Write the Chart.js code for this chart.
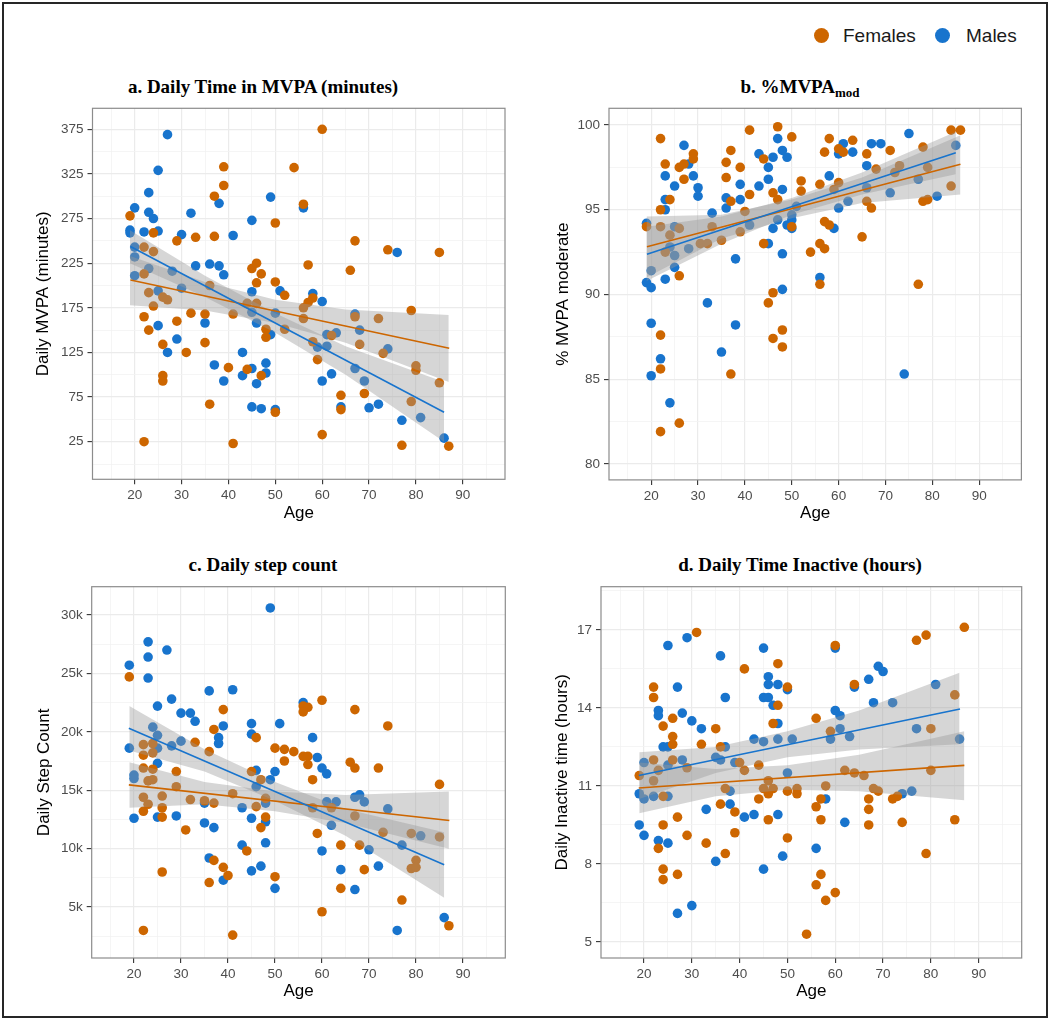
<!DOCTYPE html>
<html>
<head>
<meta charset="utf-8">
<script src="https://cdn.jsdelivr.net/npm/chart.js@4.4.1/dist/chart.umd.min.js"></script>
<style>
  body { margin: 0; background: #fff; }
  #page { position: relative; width: 1050px; height: 1020px; overflow: hidden; }
  #frame { position: absolute; left: 2px; top: 2px; width: 1042px; height: 1012px; border: 2px solid #262626; }
  canvas { position: absolute; }
  .title { position: absolute; width: 520px; text-align: center; font-family: "Liberation Serif", "Times New Roman", serif;
           font-weight: bold; font-size: 19px; line-height: 22px; color: #000; }
  .title sub { font-size: 13px; vertical-align: -4px; line-height: 0; }
  .dot { position: absolute; width: 15px; height: 15px; border-radius: 50%; }
  .lg { position: absolute; font-family: "Liberation Sans", Arial, sans-serif; font-size: 19px; line-height: 23px; color: #1a1a1a; }
</style>
</head>
<body>
<div id="page">
  <div id="frame"></div>
  <div class="dot" style="left:814px;top:28px;background:#CD6600"></div>
  <div class="lg" style="left:843px;top:24px">Females</div>
  <div class="dot" style="left:935px;top:28px;background:#1874CD"></div>
  <div class="lg" style="left:966px;top:24px">Males</div>

  <div class="title" style="left:3px;top:76px">a. Daily Time in MVPA (minutes)</div>
  <div class="title" style="left:540px;top:76px">b. %MVPA<sub>mod</sub></div>
  <div class="title" style="left:3px;top:554px">c. Daily step count</div>
  <div class="title" style="left:540px;top:554px">d. Daily Time Inactive (hours)</div>

  <canvas id="pa" width="515" height="480" style="left:4px;top:60px"></canvas>
  <canvas id="pb" width="515" height="480" style="left:525px;top:60px"></canvas>
  <canvas id="pc" width="515" height="470" style="left:4px;top:540px"></canvas>
  <canvas id="pd" width="515" height="470" style="left:525px;top:540px"></canvas>
</div>
<script>
const orange = '#CD6600';
const blue = '#1874CD';

// x axis (age)
const ageTicks = [15, 20, 25, 30, 35, 40, 45, 50, 55, 60, 65, 70, 75, 80, 85, 90, 95];
const ageLabels = [20, 30, 40, 50, 60, 70, 80, 90];

// a. daily MVPA (minutes)
const mvpaMajor = [25, 75, 125, 175, 225, 275, 325, 375];
const mvpaMinor = [0, 50, 100, 150, 200, 250, 300, 350];
const mvpaMales = [[27,369],[25,329],[23,304],[20,287],[23,282],[24,275],[19,262],[19,259],[22,260],[25,261],[30,257],[32,281],[38,292],[41,256],[45,273],[49,299],[20,243],[20,232],[20,211],[23,219],[28,216],[33,222],[36,224],[38,222],[39,212],[30,197],[25,194],[45,193],[25,155],[29,140],[27,125],[35,158],[43,125],[37,111],[39,93],[43,99],[45,107],[48,113],[48,102],[46,90],[45,64],[47,62],[50,61],[45,170],[46,158],[49,145],[56,287],[76,237],[51,194],[58,191],[60,182],[50,169],[67,168],[61,145],[63,147],[68,150],[59,131],[61,132],[74,129],[67,107],[62,101],[60,93],[69,93],[64,64],[70,63],[72,67],[77,49],[81,52],[86,29]];
const mvpaFemales = [[19,278],[24,259],[39,333],[39,312],[37,300],[33,254],[37,255],[29,250],[22,243],[24,238],[22,213],[23,192],[24,177],[26,187],[27,184],[32,169],[35,168],[41,168],[36,200],[22,165],[23,150],[29,160],[26,134],[31,125],[35,136],[26,99],[26,93],[40,108],[44,106],[47,99],[36,67],[22,25],[41,23],[45,219],[46,225],[47,213],[46,203],[50,204],[50,270],[44,180],[46,180],[48,151],[48,142],[50,58],[60,375],[54,332],[56,291],[67,250],[74,240],[85,237],[57,223],[66,217],[52,189],[58,186],[57,181],[56,175],[56,163],[67,165],[72,163],[79,172],[52,151],[62,144],[58,137],[68,134],[73,124],[59,117],[80,110],[80,105],[85,91],[64,77],[69,79],[79,70],[64,61],[60,33],[77,21],[87,20]];
const mvpaMaleFit = [[19.1,243.6],[86,58]];
const mvpaFemaleFit = [[19.1,206.2],[87.1,129.7]];
const mvpaMaleBand = [[19,225,262],[35,187,211],[50,147,169],[65,100,132],[86,25,92]];
const mvpaFemaleBand = [[19,178,233],[35,172,204],[50,158,184],[65,136,173],[87,92,167]];

// b. % MVPA moderate
const modMajor = [80, 85, 90, 95, 100];
const modMinor = [82.5, 87.5, 92.5, 97.5];
const modMales = [[19,94.2],[20,91.4],[19,90.7],[20,90.4],[20,88.3],[20,85.2],[22,86.2],[24,83.6],[23,97.0],[23,95.6],[23,95.0],[25,96.4],[27,98.8],[28,97.7],[29,97.0],[30,96.3],[30,95.8],[25,94.0],[25,92.3],[25,91.6],[23,90.9],[24,92.8],[28,92.7],[33,94.8],[32,89.5],[35,86.6],[38,88.2],[38,92.1],[36,95.7],[36,95.1],[39,96.5],[39,95.6],[41,94.1],[43,98.3],[43,96.4],[45,96.8],[45,97.5],[46,98.1],[47,99.2],[48,98.5],[49,98.1],[48,96.2],[45,93.0],[48,92.4],[48,90.3],[46,93.9],[47,94.4],[49,94.1],[50,94.4],[61,98.9],[60,98.3],[63,98.4],[67,98.9],[69,98.9],[75,99.5],[85,98.8],[66,97.6],[58,97.0],[66,96.3],[77,96.8],[71,96.0],[62,95.5],[60,95.1],[81,95.8],[51,95.2],[50,94.7],[50,93.9],[59,93.9],[56,91.0],[74,85.3]];
const modFemales = [[19,94.0],[22,99.2],[23,97.7],[22,95.0],[24,95.6],[26,97.5],[27,97.7],[29,98.3],[29,98.0],[27,96.8],[22,94.0],[24,93.5],[23,92.5],[26,93.9],[26,91.1],[22,87.6],[22,85.6],[22,81.9],[26,82.4],[30.5,93.0],[32,93.0],[33,94.0],[35,93.2],[36,97.8],[37,98.5],[36,96.9],[37,95.5],[39,97.5],[37,85.3],[39,93.7],[40,94.9],[41,99.7],[41,95.9],[44,98.0],[44,93.0],[45,89.5],[46,90.1],[46,96.0],[47,99.9],[48,87.9],[48,86.9],[46,87.4],[50,99.3],[50,94.0],[47,95.6],[58,99.2],[57,98.4],[60,98.6],[61,98.4],[63,99.1],[66,98.3],[71,98.5],[78,98.7],[84,99.7],[86,99.7],[68,97.4],[72,97.2],[73,97.6],[79,97.5],[52,96.7],[56,96.5],[60,96.6],[52,96.1],[59,96.2],[84,96.4],[66,95.5],[67,95.1],[78,95.5],[79,95.6],[57,94.3],[58,94.1],[65,93.4],[56,93.0],[57,92.7],[54,92.5],[56,90.6],[77,90.6]];
const modMaleFit = [[19.1,92.37],[85,98.36]];
const modFemaleFit = [[19.1,92.81],[86,97.69]];
const modMaleBand = [[19,90.8,94.0],[35,93.0,94.6],[50,94.7,95.7],[65,95.9,97.2],[85,97.1,99.6]];
const modFemaleBand = [[19,91.0,94.6],[35,93.3,94.7],[50,94.5,95.6],[65,95.4,96.9],[86,95.9,99.4]];

// c. daily step count
const stepMajor = [5000, 10000, 15000, 20000, 25000, 30000];
const stepMajorLabels = ['5k', '10k', '15k', '20k', '25k', '30k'];
const stepMinor = [2500, 7500, 12500, 17500, 22500, 27500];
const stepMales = [[19,25700],[19,18600],[20,16300],[20,16000],[20,12600],[23,27700],[23,26400],[23,24600],[27,27000],[25,22200],[28,22800],[30,21600],[32,21600],[33,20900],[36,23500],[41,23600],[39,20500],[38,19500],[38,19000],[24,20400],[25,19700],[25,18600],[28,18800],[30,19200],[25,17300],[25,12700],[29,12800],[35,12200],[37,11800],[35,13900],[43,13500],[45,12600],[45,20700],[45,19800],[46,16700],[46,15300],[48,12300],[48,10500],[43,10300],[36,9200],[39,7300],[45,8100],[47,8500],[49,30600],[50,16600],[50,6600],[48,13900],[56,22500],[51,20700],[58,19500],[59,17800],[60,16900],[61,16400],[49,15900],[67,14400],[68,14600],[69,14000],[61,14000],[63,14000],[74,13400],[62,12000],[81,11100],[70,9900],[77,10300],[60,9800],[64,8200],[72,8500],[67,6500],[76,3000],[86,4100]];
const stepFemales = [[19,24700],[22,18900],[24,19000],[22,18000],[24,18200],[22,16900],[24,16800],[23,15800],[24,15900],[22,14400],[26,14500],[23,13800],[22,13200],[26,13500],[26,12700],[29,16600],[29,15300],[33,19100],[36,18300],[32,14200],[35,14100],[37,13900],[41,14700],[31,11600],[26,8000],[36,7100],[37,9000],[39,8400],[40,7700],[44,9800],[39,21900],[37,20200],[46,19500],[50,18600],[45,16600],[47,15900],[46,13600],[48,12700],[47,11800],[48,14300],[50,7600],[22,3000],[41,2600],[60,22700],[56,22200],[57,22100],[56,21700],[67,21900],[74,20500],[52,18500],[54,18300],[56,17900],[57,17900],[57,17200],[52,17500],[66,17400],[67,16900],[72,16900],[58,15900],[85,15500],[58,13500],[62,13500],[67,12800],[59,11300],[73,11400],[79,11300],[85,11000],[64,10300],[68,10300],[80,9000],[79,8300],[80,8400],[69,8200],[64,6600],[77,5600],[60,4600],[87,3400]];
const stepMaleFit = [[18.9,20310],[86,8620]];
const stepFemaleFit = [[18.9,15460],[87.1,12410]];
const stepMaleBand = [[19,18400,22200],[35,16600,18500],[50,14100,15700],[65,11100,13400],[86,5800,11400]];
const stepFemaleBand = [[19,13500,17400],[35,13800,15700],[50,13200,14900],[65,12200,14600],[87,10000,14900]];

// d. daily inactive time (hours)
const hourMajor = [5, 8, 11, 14, 17];
const hourMinor = [6.5, 9.5, 12.5, 15.5, 18.5];
const hourMales = [[25,16.4],[29,16.7],[36,16.0],[45,16.3],[46,15.2],[46,14.9],[48,14.9],[50,14.7],[45,14.4],[46,14.4],[47,14.1],[48,13.4],[27,14.8],[37,14.4],[23,13.9],[23,13.7],[28,13.8],[30,13.5],[32,13.2],[24,12.5],[25,12.5],[43,12.8],[45,12.7],[48,12.8],[51,12.8],[37,12.5],[35,12.1],[36,12.0],[39,11.9],[20,11.9],[28,12.0],[25,11.8],[50,11.5],[19,10.7],[20,10.5],[22,10.6],[25,10.6],[38,10.8],[38,10.3],[33,10.1],[41,9.8],[43,9.9],[48,9.9],[19,9.5],[20,9.1],[23,8.9],[25,8.8],[35,8.1],[45,7.8],[49,8.3],[27,6.1],[30,6.4],[60,16.3],[69,15.6],[70,15.4],[67,15.1],[64,14.8],[81,14.9],[68,14.2],[72,14.2],[60,13.9],[61,13.7],[77,13.2],[61,13.2],[59,12.8],[63,12.9],[86,12.8],[74,10.7],[76,10.8],[58,10.5],[62,9.6],[56,8.6]];
const hourFemales = [[31,16.9],[22,14.8],[22,14.4],[41,15.5],[48,15.7],[50,14.8],[48,14.1],[47,13.4],[24,13.3],[26,13.6],[26,12.9],[26,12.6],[35,13.2],[32,12.6],[36,12.5],[22,12.0],[23,11.6],[26,12.0],[29,11.7],[40,11.9],[41,11.6],[44,11.8],[22,11.2],[24,10.6],[37,10.9],[45,10.9],[46,11.2],[47,10.9],[44,10.5],[46,10.7],[36,10.3],[39,10.0],[46,9.7],[50,10.8],[27,9.8],[24,9.5],[39,9.2],[29,9.1],[33,8.8],[50,9.0],[23,8.6],[37,8.4],[24,7.8],[24,7.4],[27,7.6],[19,11.4],[87,17.1],[77,16.6],[79,16.8],[60,16.4],[64,14.9],[85,14.5],[56,13.6],[80,13.2],[59,13.1],[80,11.6],[62,11.6],[64,11.5],[66,11.4],[52,10.9],[52,10.7],[58,11.0],[68,10.9],[69,10.8],[72,10.5],[73,10.6],[67,10.5],[57,10.5],[56,10.2],[67,10.1],[57,9.7],[67,9.5],[74,9.6],[85,9.7],[79,8.4],[57,7.6],[56,7.2],[60,6.9],[58,6.6],[54,5.3]];
const hourMaleFit = [[18.9,11.40],[86.1,13.96]];
const hourFemaleFit = [[18.9,10.92],[87,11.79]];
const hourMaleBand = [[19,10.5,12.3],[35,11.5,12.5],[50,12.1,13.1],[65,12.4,13.9],[86,12.6,15.35]];
const hourFemaleBand = [[19,9.95,11.9],[35,10.6,11.65],[50,10.85,11.8],[65,10.8,12.2],[87,10.45,13.1]];

Chart.defaults.font.family = '"Liberation Sans", Arial, sans-serif';

const pts = arr => arr.map(p => ({x: p[0], y: p[1]}));
const bandLow = arr => arr.map(p => ({x: p[0], y: p[1]}));
const bandHigh = arr => arr.map(p => ({x: p[0], y: p[2]}));

const panelBorder = {
    id: 'panelBorder',
    afterDatasetsDraw(chart) {
        const {ctx, chartArea: a} = chart;
        ctx.save();
        ctx.strokeStyle = '#8c8c8c';
        ctx.lineWidth = 1.2;
        ctx.strokeRect(a.left, a.top, a.right - a.left, a.bottom - a.top);
        ctx.restore();
    }
};

function makePanel(id, p) {
    const ctx = document.getElementById(id).getContext('2d');
    const ribbon = 'rgba(153,153,153,0.4)';
    const none = 'rgba(0,0,0,0)';
    const yTicks = p.yMajor.concat(p.yMinor).sort((a, b) => a - b);

    const data = {
        datasets: [
            {type: 'line', data: pts(p.maleFit), borderColor: blue, borderWidth: 1.6, pointRadius: 0, fill: false, order: 1},
            {type: 'line', data: pts(p.femaleFit), borderColor: orange, borderWidth: 1.6, pointRadius: 0, fill: false, order: 1},
            {type: 'line', data: bandHigh(p.maleBand), borderColor: none, backgroundColor: ribbon, pointRadius: 0, fill: '+1', order: 2},
            {type: 'line', data: bandLow(p.maleBand), borderColor: none, pointRadius: 0, fill: false, order: 2},
            {type: 'line', data: bandHigh(p.femaleBand), borderColor: none, backgroundColor: ribbon, pointRadius: 0, fill: '+1', order: 2},
            {type: 'line', data: bandLow(p.femaleBand), borderColor: none, pointRadius: 0, fill: false, order: 2},
            {label: 'Females', data: pts(p.females), backgroundColor: orange, borderWidth: 0, pointRadius: 4.8, order: 3},
            {label: 'Males', data: pts(p.males), backgroundColor: blue, borderWidth: 0, pointRadius: 4.8, order: 4}
        ]
    };

    const config = {
        type: 'scatter',
        data: data,
        options: {
            responsive: false,
            animation: false,
            devicePixelRatio: 1,
            layout: {
                padding: {top: p.padTop, right: p.padRight, left: 0, bottom: 0}
            },
            plugins: {
                legend: {display: false},
                tooltip: {enabled: false}
            },
            scales: {
                x: {
                    type: 'linear',
                    min: 11,
                    max: 99,
                    afterBuildTicks: (s) => { s.ticks = ageTicks.map(v => ({value: v})); },
                    afterFit: (s) => { s.height = p.xHeight; },
                    border: {display: false},
                    grid: {
                        color: (c) => ageLabels.includes(c.tick.value) ? '#EBEBEB' : '#F3F3F3',
                        lineWidth: (c) => ageLabels.includes(c.tick.value) ? 1.2 : 0.8,
                        tickColor: (c) => ageLabels.includes(c.tick.value) ? '#333333' : none,
                        tickLength: 5,
                        tickWidth: 1.1
                    },
                    ticks: {
                        autoSkip: false,
                        maxRotation: 0,
                        padding: 3,
                        color: '#4D4D4D',
                        font: {size: 13.5},
                        callback: (v) => ageLabels.includes(v) ? String(v) : ''
                    },
                    title: {
                        display: true,
                        text: 'Age',
                        color: '#000',
                        font: {size: 17},
                        padding: {top: 0, bottom: p.xTitlePad}
                    }
                },
                y: {
                    type: 'linear',
                    min: p.yRange[0],
                    max: p.yRange[1],
                    afterBuildTicks: (s) => { s.ticks = yTicks.map(v => ({value: v})); },
                    afterFit: (s) => { s.width = p.yWidth; },
                    border: {display: false},
                    grid: {
                        color: (c) => p.yMajor.includes(c.tick.value) ? '#EBEBEB' : '#F3F3F3',
                        lineWidth: (c) => p.yMajor.includes(c.tick.value) ? 1.2 : 0.8,
                        tickColor: (c) => p.yMajor.includes(c.tick.value) ? '#333333' : none,
                        tickLength: 5,
                        tickWidth: 1.1
                    },
                    ticks: {
                        autoSkip: false,
                        padding: 4,
                        color: '#4D4D4D',
                        font: {size: 13.5},
                        callback: (v) => {
                            const i = p.yMajor.indexOf(v);
                            return i < 0 ? '' : p.yText(v, i);
                        }
                    },
                    title: {
                        display: true,
                        text: p.yTitle,
                        color: '#000',
                        font: {size: 17},
                        padding: {top: p.yTitlePad, bottom: 0}
                    }
                }
            }
        },
        plugins: [panelBorder]
    };

    return new Chart(ctx, config);
}

makePanel('pa', {
    yRange: [-17.1, 398.5], yMajor: mvpaMajor, yMinor: mvpaMinor, yText: (v) => String(v),
    yTitle: 'Daily MVPA (minutes)', yWidth: 88.5, yTitlePad: 29, padTop: 48.3, padRight: 14, xHeight: 60.7, xTitlePad: 16.5,
    males: mvpaMales, females: mvpaFemales, maleFit: mvpaMaleFit, femaleFit: mvpaFemaleFit,
    maleBand: mvpaMaleBand, femaleBand: mvpaFemaleBand
});

makePanel('pb', {
    yRange: [79.05, 100.99], yMajor: modMajor, yMinor: modMinor, yText: (v) => String(v),
    yTitle: '% MVPA moderate', yWidth: 84, yTitlePad: 28, padTop: 48.3, padRight: 18.6, xHeight: 60.1, xTitlePad: 16,
    males: modMales, females: modFemales, maleFit: modMaleFit, femaleFit: modFemaleFit,
    maleBand: modMaleBand, femaleBand: modFemaleBand
});

makePanel('pc', {
    yRange: [640, 32420], yMajor: stepMajor, yMinor: stepMinor, yText: (v, i) => stepMajorLabels[i],
    yTitle: 'Daily Step Count', yWidth: 87.7, yTitlePad: 30, padTop: 46.7, padRight: 13.7, xHeight: 52, xTitlePad: 8,
    males: stepMales, females: stepFemales, maleFit: stepMaleFit, femaleFit: stepFemaleFit,
    maleBand: stepMaleBand, femaleBand: stepFemaleBand
});

makePanel('pd', {
    yRange: [4.385, 18.66], yMajor: hourMajor, yMinor: hourMinor, yText: (v) => String(v),
    yTitle: 'Daily Inactive time (hours)', yWidth: 76, yTitlePad: 27.5, padTop: 46.7, padRight: 18.3, xHeight: 52, xTitlePad: 8,
    males: hourMales, females: hourFemales, maleFit: hourMaleFit, femaleFit: hourFemaleFit,
    maleBand: hourMaleBand, femaleBand: hourFemaleBand
});
</script>
</body>
</html>
